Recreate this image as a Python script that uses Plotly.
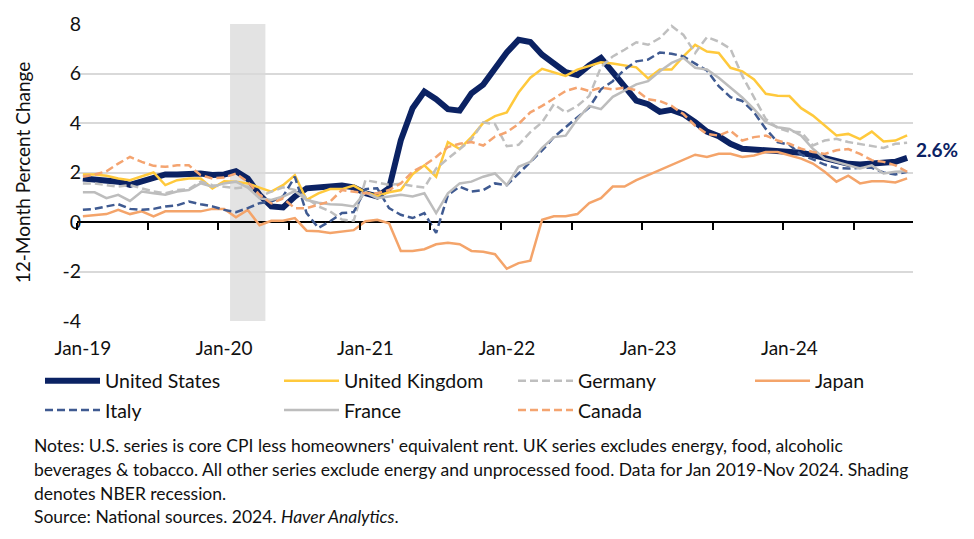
import plotly.graph_objects as go
import pandas as pd

# ---------------- data ----------------
months = pd.date_range("2019-01-01", "2024-11-01", freq="MS")
labels = [d.strftime("%b-%y") for d in months]

us = [1.76, 1.70, 1.63, 1.63, 1.50, 1.63, 1.76, 1.92, 1.92, 1.96, 1.96, 1.90,
      1.92, 2.05, 1.76, 1.10, 0.63, 0.59, 1.03, 1.36, 1.39, 1.43, 1.47, 1.40,
      1.16, 1.03, 1.36, 3.30, 4.60, 5.27, 4.96, 4.56, 4.50, 5.20, 5.55, 6.20,
      6.85, 7.36, 7.27, 6.76, 6.38, 6.05, 5.94, 6.33, 6.63, 6.05, 5.40, 4.90,
      4.76, 4.45, 4.53, 4.36, 4.03, 3.65, 3.47, 3.16, 2.96, 2.93, 2.93, 2.90,
      2.85, 2.80, 2.70, 2.59, 2.43, 2.35, 2.32, 2.36, 2.40, 2.43, 2.59]

uk = [1.92, 1.92, 1.87, 1.76, 1.69, 1.85, 2.00, 1.49, 1.69, 1.76, 1.76, 1.36,
      1.65, 1.63, 1.56, 1.39, 1.23, 1.49, 1.89, 0.90, 1.16, 1.33, 1.33, 1.47,
      1.20, 1.05, 1.20, 1.29, 1.93, 2.29, 1.83, 3.23, 2.95, 3.43, 4.00, 4.28,
      4.43, 5.23, 5.83, 6.19, 6.04, 5.90, 6.16, 6.30, 6.45, 6.40, 6.32, 6.25,
      5.80, 6.16, 6.16, 6.69, 7.16, 6.89, 6.83, 6.23, 6.09, 5.76, 5.18, 5.10,
      5.09, 4.60, 4.30, 3.90, 3.50, 3.56, 3.35, 3.65, 3.25, 3.29, 3.50]

germany = [1.56, 1.56, 1.49, 1.43, 1.49, 1.36, 1.23, 1.16, 1.29, 1.33, 1.63, 1.49,
           1.43, 1.36, 1.43, 1.03, 1.23, 1.40, 1.30, 0.96, 0.63, 0.43, 0.10, 0.05,
           1.69, 1.60, 1.50, 1.55, 1.45, 1.39, 2.16, 2.56, 2.96, 3.33, 4.03, 3.95,
           3.06, 3.12, 3.63, 4.03, 4.76, 4.43, 4.69, 5.09, 6.26, 6.69, 6.96, 7.26,
           7.16, 7.43, 7.92, 7.56, 6.83, 7.47, 7.29, 7.00, 5.90, 5.00, 4.16, 3.80,
           3.65, 3.63, 3.09, 3.29, 3.36, 3.23, 3.16, 3.09, 2.99, 3.16, 3.20]

japan = [0.23, 0.29, 0.32, 0.49, 0.32, 0.43, 0.23, 0.43, 0.43, 0.43, 0.43, 0.53,
         0.53, 0.19, 0.49, -0.13, 0.05, 0.05, 0.16, -0.35, -0.37, -0.44, -0.40, -0.33,
         0.03, 0.09, -0.05, -1.17, -1.17, -1.10, -0.90, -0.84, -0.90, -1.17, -1.20, -1.30,
         -1.89, -1.66, -1.56, 0.09, 0.23, 0.23, 0.32, 0.76, 0.96, 1.43, 1.43, 1.69,
         1.89, 2.09, 2.29, 2.49, 2.72, 2.63, 2.76, 2.76, 2.63, 2.69, 2.83, 2.83,
         2.69, 2.56, 2.36, 2.03, 1.63, 1.87, 1.56, 1.65, 1.65, 1.60, 1.76]

italy = [0.49, 0.53, 0.63, 0.72, 0.53, 0.49, 0.53, 0.63, 0.67, 0.83, 0.72, 0.63,
         0.49, 0.40, 0.56, 0.76, 0.83, 1.03, 1.83, 0.36, -0.24, 0.03, 0.36, 0.40,
         1.33, 1.36, 0.56, 0.29, 0.16, 0.36, -0.44, 1.09, 1.43, 1.23, 1.29, 1.56,
         1.49, 1.96, 2.43, 2.89, 3.43, 3.83, 4.23, 4.63, 5.36, 5.69, 6.16, 6.49,
         6.56, 6.85, 6.80, 6.69, 6.40, 6.12, 5.49, 5.04, 4.89, 4.43, 3.76, 3.23,
         3.12, 2.72, 2.53, 2.32, 2.19, 2.16, 2.19, 2.19, 2.00, 1.92, 2.03]

france = [1.20, 1.20, 0.96, 1.10, 0.85, 1.23, 1.16, 1.10, 1.23, 1.29, 1.56, 1.43,
          1.56, 1.63, 1.39, 0.96, 0.89, 1.03, 1.25, 0.89, 0.78, 0.72, 0.70, 0.63,
          1.20, 0.96, 1.03, 1.10, 1.03, 1.16, 0.36, 1.16, 1.56, 1.63, 1.83, 1.96,
          1.49, 2.23, 2.43, 3.00, 3.43, 3.49, 4.16, 4.69, 4.56, 5.06, 5.31, 5.56,
          5.69, 6.09, 6.43, 6.63, 6.23, 6.16, 5.83, 5.43, 5.03, 4.56, 4.03, 3.83,
          3.76, 3.49, 2.96, 2.56, 2.43, 2.32, 2.16, 2.29, 1.96, 2.03, 2.05]

canada = [1.83, 1.92, 2.05, 2.36, 2.63, 2.43, 2.27, 2.23, 2.29, 2.29, 1.89, 1.76,
          1.80, 1.96, 1.62, 1.10, 0.75, 0.95, 0.56, 0.56, 0.70, 0.83, 1.29, 1.23,
          1.16, 1.16, 1.29, 1.56, 2.03, 2.29, 2.63, 3.03, 3.16, 3.23, 3.09, 3.45,
          3.63, 3.96, 4.43, 4.69, 4.99, 5.29, 5.43, 5.29, 5.43, 5.36, 5.43, 5.32,
          4.96, 4.89, 4.69, 4.36, 3.89, 3.56, 3.49, 3.69, 3.29, 3.43, 3.49, 3.29,
          3.16, 2.96, 2.83, 2.75, 2.90, 2.95, 2.75, 2.50, 2.43, 2.29, 2.03]

series_names = ["United States", "United Kingdom", "Germany", "Japan",
                "Italy", "France", "Canada"]
series_values = [us, uk, germany, japan, italy, france, canada]

recession_start, recession_end = "Feb-20", "Apr-20"
y_min, y_max = -4, 8
y_ticks = [-4, -2, 0, 2, 4, 6, 8]
x_tick_labels = [lab for lab, d in zip(labels, months) if d.month == 1]

notes_lines = [
    "Notes: U.S. series is core CPI less homeowners' equivalent rent. UK series excludes energy, food, alcoholic",
    "beverages & tobacco. All other series exclude energy and unprocessed food. Data for Jan 2019-Nov 2024. Shading",
    "denotes NBER recession.",
    "Source: National sources. 2024. <i>Haver Analytics</i>.",
]

for v in series_values:
    assert len(v) == len(labels), len(v)

# ---------------- styles ----------------
FONT = "Lato, 'Open Sans', sans-serif"
NAVY = "#0B2263"
TXT = "#111111"
styles = {
    "United States": dict(color=NAVY, width=6, dash="solid", legend="legend"),
    "United Kingdom": dict(color="#FFC93C", width=2.5, dash="solid", legend="legend2"),
    "Germany": dict(color="#BFBFBF", width=2.5, dash="8px,4px", legend="legend3"),
    "Japan": dict(color="#F4A46A", width=2.5, dash="solid", legend="legend4"),
    "Italy": dict(color="#3F5A91", width=2.5, dash="8px,4px", legend="legend"),
    "France": dict(color="#BDBDBD", width=2.5, dash="solid", legend="legend2"),
    "Canada": dict(color="#F4A470", width=2.5, dash="8px,4px", legend="legend3"),
}

fig = go.Figure()

# invisible helper trace for the tick-mark axis at y = 0
fig.add_trace(go.Scatter(x=list(range(len(labels))), y=us, xaxis="x2", yaxis="y",
                         mode="lines", line=dict(width=0), opacity=0,
                         showlegend=False, hoverinfo="skip"))

for name, vals in zip(series_names, series_values):
    s = styles[name]
    fig.add_trace(go.Scatter(
        x=labels, y=vals, name=name, mode="lines",
        line=dict(color=s["color"], width=s["width"], dash=s["dash"]),
        legend=s["legend"], legendgroup=name,
    ))

# recession shading
i0 = labels.index(recession_start) - 0.5
i1 = labels.index(recession_end) + 0.5
fig.add_shape(type="rect", xref="x", yref="y", x0=i0, x1=i1, y0=y_min, y1=y_max,
              fillcolor="#E3E3E3", line=dict(width=0), layer="below")

# end label
fig.add_annotation(x=labels[-1], y=us[-1], xref="x", yref="y",
                   text=f"<b>{us[-1]:.1f}%</b>", showarrow=False,
                   xanchor="left", yanchor="middle", xshift=7, yshift=8,
                   font=dict(family=FONT, size=19, color=NAVY))

# notes
W, H = 974, 539
ML, MR, MT, MB = 77, 61, 21, 218
pw, ph = W - ML - MR, H - MT - MB
note_y = [447, 471, 495, 518]
for txt, yy in zip(notes_lines, note_y):
    fig.add_annotation(xref="paper", yref="paper", x=(32 - ML) / pw, y=(H - MB - yy) / ph,
                       xanchor="left", yanchor="middle", text=txt, showarrow=False,
                       align="left", font=dict(family=FONT, size=17.5, color=TXT))

leg_common = dict(orientation="v", xanchor="left", yanchor="top",
                  font=dict(family=FONT, size=19.5, color=TXT),
                  bgcolor="rgba(0,0,0,0)", tracegroupgap=1, itemwidth=55)
leg_top = 362
col_px = [40, 279, 513, 750]
legends = {}
for key, px in zip(["legend", "legend2", "legend3", "legend4"], col_px):
    legends[key] = dict(leg_common, x=(px - ML) / pw, y=(H - MB - leg_top) / ph)

fig.update_layout(
    width=W, height=H,
    margin=dict(l=ML, r=MR, t=MT, b=MB),
    paper_bgcolor="white", plot_bgcolor="white",
    font=dict(family=FONT, size=18, color=TXT),
    showlegend=True,
    **legends,
    xaxis=dict(type="category", categoryorder="array", categoryarray=labels,
               range=[-0.5, len(labels) - 0.5], tickmode="array",
               tickvals=x_tick_labels, ticktext=x_tick_labels,
               ticks="", showgrid=False, showline=False, zeroline=False,
               tickfont=dict(family=FONT, size=19, color=TXT),
               ticklabelstandoff=14),
    xaxis2=dict(overlaying="x", anchor="free",
                position=(0 - y_min) / (y_max - y_min),
                range=[-0.5, len(labels) - 0.5], tickmode="array",
                tickvals=[i - 0.5 for i in range(0, len(labels), 6)],
                ticks="outside", ticklen=7, tickwidth=2, tickcolor="black",
                showticklabels=False, showgrid=False, zeroline=False, showline=False),
    yaxis=dict(range=[y_min, y_max], tickmode="array", tickvals=y_ticks,
               ticktext=[str(t) for t in y_ticks],
               showgrid=True, gridcolor="#D9D9D9", gridwidth=1.5,
               zeroline=True, zerolinecolor="black", zerolinewidth=2,
               showline=False, ticks="", ticklabelstandoff=-5,
               tickfont=dict(family=FONT, size=19.5, color=TXT),
               title=dict(text="12-Month Percent Change", standoff=26,
                          font=dict(family=FONT, size=19, color=TXT))),
)

fig.write_html("out.html")
